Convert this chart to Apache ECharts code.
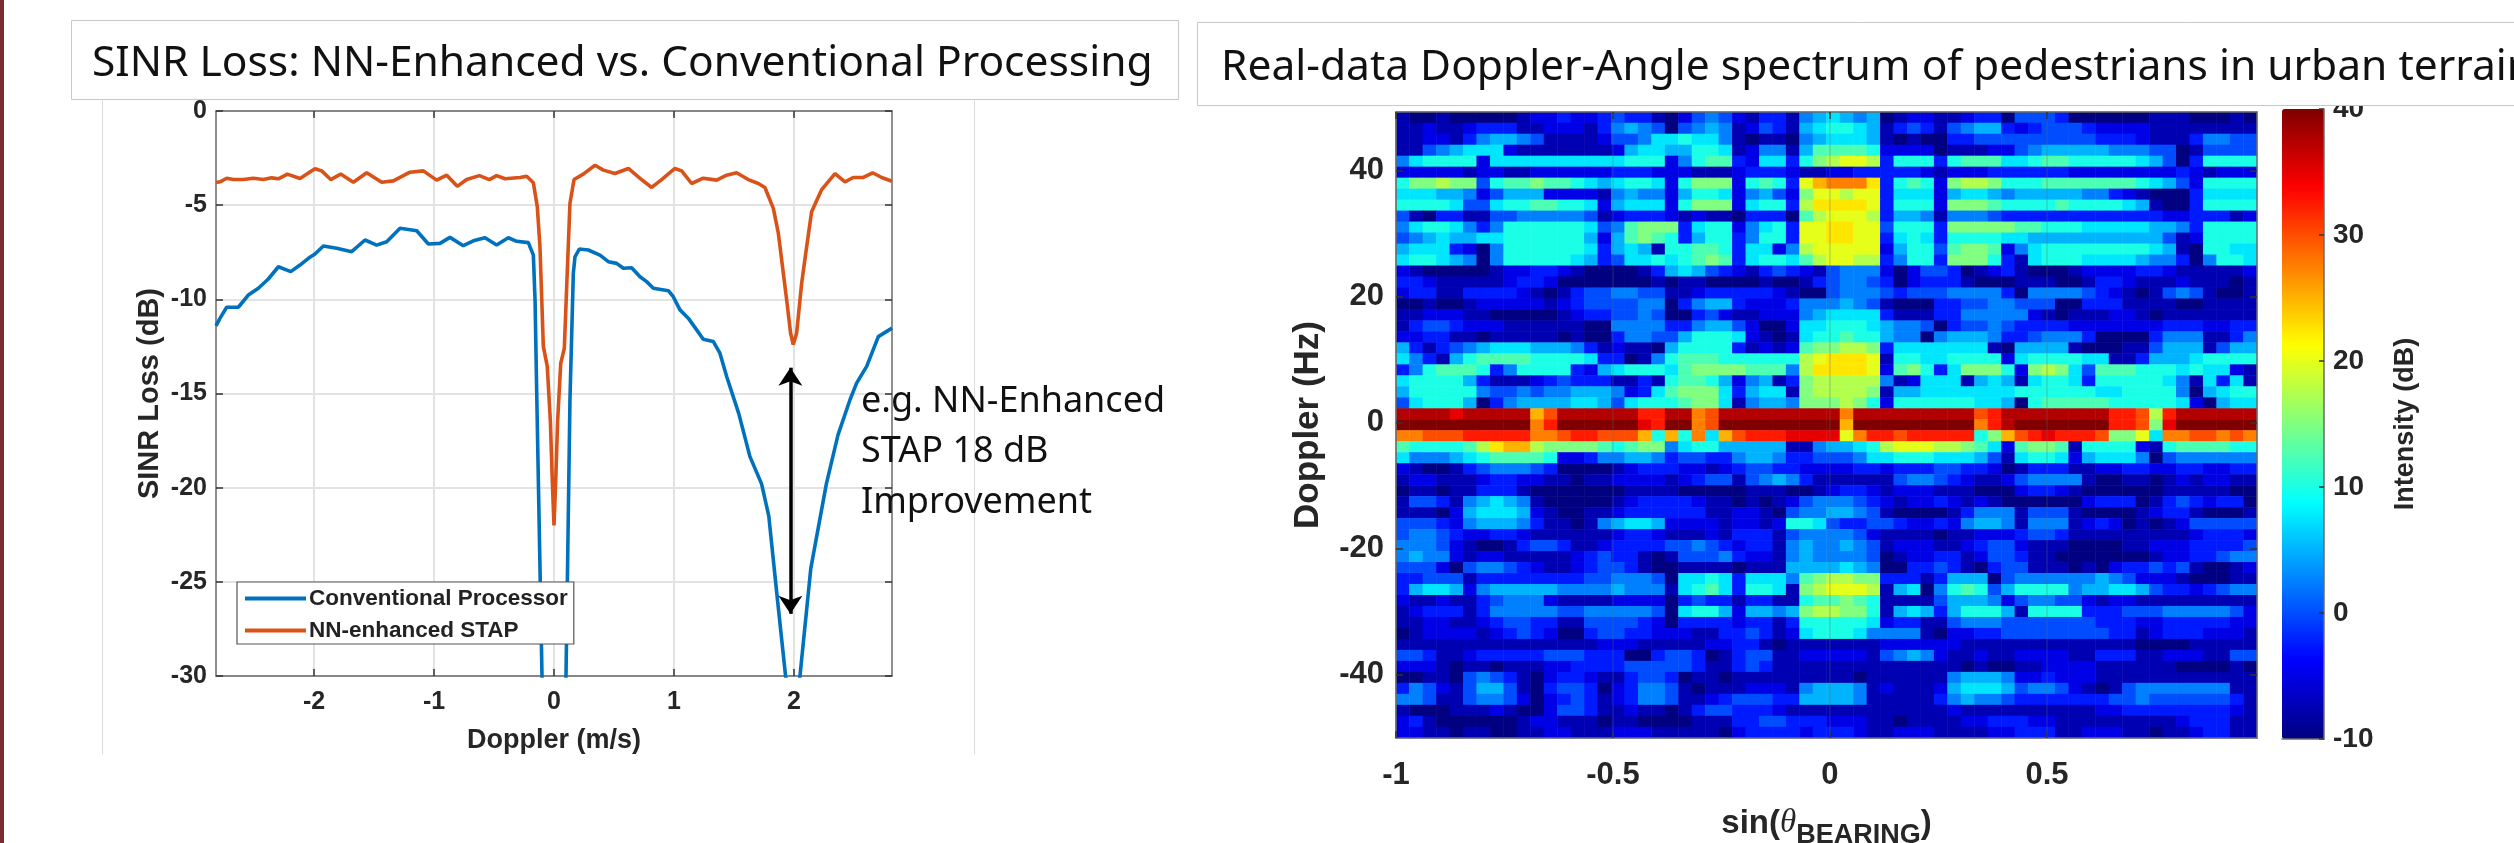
<!DOCTYPE html>
<html><head><meta charset="utf-8">
<style>html,body{margin:0;padding:0;background:#fff;overflow:hidden}#c{width:2514px;height:843px}</style>
<script src="https://cdn.jsdelivr.net/npm/echarts@6/dist/echarts.min.js"></script>
</head><body><div id="c"></div>
<script>
const titleLeft = 'SINR Loss: NN-Enhanced vs. Conventional Processing';
const titleRight = 'Real-data Doppler-Angle spectrum of pedestrians in urban terrain';
const noteLines = ['e.g. NN-Enhanced', 'STAP 18 dB', 'Improvement'];
const dopplerTicks = [-2, -1, 0, 1, 2];
const sinTicks = [-1, -0.5, 0, 0.5];
const hzTicks = [-40, -20, 0, 20, 40];

const conventionalX = [-2.817,-2.783,-2.728,-2.631,-2.547,-2.464,-2.381,-2.297,-2.194,-2.117,-2.047,-1.992,-1.922,-1.811,-1.686,-1.575,-1.478,-1.394,-1.283,-1.144,-1.047,-0.95,-0.867,-0.756,-0.672,-0.575,-0.478,-0.381,-0.311,-0.214,-0.172,-0.158,-0.144,-0.10,-0.09,0,0.09,0.10,0.133,0.161,0.175,0.211,0.286,0.383,0.453,0.522,0.578,0.647,0.717,0.772,0.828,0.953,0.994,1.05,1.119,1.189,1.244,1.328,1.383,1.439,1.54,1.633,1.73,1.79,1.855,1.93,2.0,2.05,2.14,2.27,2.367,2.467,2.522,2.606,2.703,2.817];
const conventionalY = [-11.41,-11.0,-10.42,-10.42,-9.77,-9.41,-8.92,-8.27,-8.53,-8.18,-7.82,-7.59,-7.17,-7.29,-7.47,-6.85,-7.12,-6.94,-6.23,-6.36,-7.06,-7.03,-6.71,-7.15,-6.89,-6.73,-7.12,-6.73,-6.92,-6.99,-7.65,-10.03,-14.98,-30,-33,-36,-33,-30,-15.33,-8.62,-7.74,-7.33,-7.38,-7.65,-8.0,-8.09,-8.35,-8.32,-8.8,-9.06,-9.41,-9.54,-9.86,-10.56,-11.0,-11.62,-12.12,-12.24,-12.86,-14.1,-16.07,-18.35,-19.8,-21.5,-25.5,-30,-33,-30,-24.3,-19.8,-17.2,-15.33,-14.45,-13.56,-11.98,-11.53];
const enhancedX = [-2.817,-2.783,-2.728,-2.672,-2.589,-2.506,-2.422,-2.353,-2.297,-2.222,-2.117,-1.992,-1.936,-1.861,-1.778,-1.672,-1.561,-1.436,-1.339,-1.2,-1.089,-0.978,-0.894,-0.806,-0.728,-0.622,-0.539,-0.478,-0.408,-0.283,-0.228,-0.172,-0.139,-0.117,-0.089,-0.056,-0.03,-0.015,0,0.015,0.03,0.056,0.086,0.106,0.133,0.167,0.244,0.342,0.411,0.508,0.62,0.717,0.814,0.897,1.008,1.064,1.147,1.244,1.356,1.439,1.522,1.619,1.703,1.758,1.828,1.87,1.939,1.972,1.994,2.022,2.064,2.106,2.147,2.231,2.342,2.425,2.494,2.578,2.656,2.731,2.817];
const enhancedY = [-3.8,-3.76,-3.57,-3.64,-3.64,-3.57,-3.64,-3.55,-3.6,-3.35,-3.58,-3.07,-3.18,-3.64,-3.35,-3.78,-3.28,-3.78,-3.71,-3.25,-3.18,-3.67,-3.41,-4.0,-3.64,-3.43,-3.64,-3.43,-3.6,-3.53,-3.46,-3.81,-5.09,-7.21,-12.5,-13.56,-16.5,-19.5,-22,-19.5,-16.5,-13.4,-12.6,-9.3,-4.9,-3.64,-3.35,-2.88,-3.14,-3.32,-3.05,-3.58,-4.06,-3.64,-3.05,-3.18,-3.85,-3.57,-3.67,-3.41,-3.28,-3.64,-3.85,-4.06,-5.17,-6.5,-10.03,-11.8,-12.4,-11.8,-9.15,-7.2,-5.35,-4.17,-3.32,-3.76,-3.53,-3.53,-3.28,-3.53,-3.73];

// Spectrum cells, top row first. Each character is one cell, in 2.5 dB steps from -10 dB (0) to 40 dB (k).
const spectrumRows = [
"1001000001 2232234331 0245421331 5676560122 1123304443 0000001110 0010",
"1121123331 1222135654 0456512431 6788761343 1456632344 4322221111 1111",
"1122135665 4111124457 7877510110 5677761010 0334444444 4433321113 5544",
"1145677721 1111112677 6688712551 6999982222 0111224566 6665554401 4444",
"5788882777 7777777888 2589932773 8abccb3888 3899977899 8888876403 8888",
"2222212211 2222223332 2211123332 1122333332 1222333333 2222222232 1222",
"8aabaa4899 a998767887 28aaa28983 cefffd3898 2abba88899 9999987642 8888",
"7776652466 6222215655 2688725642 accbcc3777 2677656666 6553210003 7777",
"8888744788 9988726777 28aaa27883 bddddc3888 2aaa988889 8888761003 8888",
"4103311445 5555412333 2121103330 9bcccb3665 1555433333 3333333223 3312",
"5788753588 88887459aa a378825783 ccddcc4888 3aaaaa9988 8777776653 8888",
"4567667788 88886269a9 8368835883 ccddcc3787 3888877666 6666666412 8888",
"6777320588 8888736761 8899837725 bccccc2688 49aa925788 8888887610 8877",
"7887650588 8887634778 789a937887 9bccbb3588 3aaa831788 8777765530 5887",
"2100000122 3321000013 6764321343 2145552024 4301231000 1222233211 1112",
"3321111123 3200000001 0110000100 1345543023 3310001110 0133211121 1101",
"2331133332 1013445544 1123333321 0045554344 4555530555 5432101454 1001",
"0010012222 2123444455 0356632223 5556541000 3344554440 0333111100 1111",
"1122211000 0012334454 0034211222 5677773111 3355555210 1112210111 1111",
"1344322211 1111005555 3356642002 7788876554 0344543333 2222222333 2233",
"2233110111 1101003554 4688872101 7889886550 5666533455 5300003555 1135",
"6313456777 6665312110 6888831212 9aabba3777 7777106666 1000114666 1466",
"7531689999 8888733015 8999888888 bcdddc1887 7888827888 8771136667 8888",
"3589998358 8883267888 79aaaa9995 bddddc29a8 37aaa82aba 7499988878 7721",
"7888863111 2343331131 8998625613 abbbbb5127 7716761788 7388888751 7371",
"6888885445 4556665237 9aaa736771 abbbba1667 7777778888 8877888850 6788",
"4788860356 6667764788 89aa715665 aaaba82888 8887760899 9998888872 0677",
"jjjjijjjjj egjjjjjjhh jjfgjjjjjj jjjfjjjjjj jjjghjjjjj jjjhhgbhjj jjjj",
"kkkkkkkkkk fhkkkkkkih kkfgkkkkkk kkkekkkkkk kkkfhjkkkk kkkhhgaikk kkkk",
"ffggghhhhh ffghhggge8 e8f7eghhhi iiicfhhghh hhh8aeghih hhgaac7ffg gfgf",
"988889bdee baaaa989aa 5788666661 156678bccc bba9729aa9 1888821899 9988",
"7555678999 9822355665 3443356653 3444577888 7776417887 2677750455 5555",
"2100134555 4300001233 3221234433 2222332333 4433201333 1122332233 2233",
"1221112332 2110112222 1234414565 3111111455 4321124555 5100110121 2211",
"0110113331 0000000111 1000001110 0123321222 1110002332 1000000111 1100",
"1443156765 1000001233 3321101012 4555432122 3212100000 0233301343 2330",
"1110267776 2100112333 3331122104 5566541000 0135551444 1000012331 0001",
"4443256665 3110156776 2222122128 8743344322 3256651555 1232010124 4444",
"4554322332 1111112332 1112133314 5555421111 0112223443 1111111112 3332",
"5554210013 4431123333 4454323315 6556541222 1123442111 0000112223 3334",
"5655212211 1112343310 1444532215 6555540122 3312443110 0000001223 3455",
"4442045543 2112344310 0111101116 6667650033 4310344111 0102334341 0012",
"3344413333 3333445554 0778737775 9abbaa3331 3666045555 5565422210 0011",
"3677625666 6655556555 1789738871 abcccb1670 5898468888 5667764332 3455",
"2112113455 5211112222 0343313311 899a981111 4666524554 4212211111 1111",
"1233313555 5544555554 0788626656 abbaa81676 3688861888 8333444555 5542",
"1122112344 3311444432 0333323313 8888872331 1455544444 4433322333 3322",
"0122221234 3200344332 2211334312 7888755551 0223344444 4443312333 2221",
"1111111111 1111122211 1112233101 1111112222 2211111111 1111100001 1111",
"4431123333 3444333003 4430134411 2222214565 2112112222 1133311222 1144",
"2221011011 1223333444 4431134311 1111111111 1101001122 2211111100 0010",
"0011045431 0233211344 3011011111 1111011111 1566652232 2211111111 1111",
"3542146641 0344302355 4101112221 5666512111 2677764554 2101455555 5511",
"5541145542 0234312355 4112344433 6666511111 3565543333 3334454444 4431",
"1000111210 0244311211 0134433321 1111111111 1211111111 1122333333 3321",
"2310000001 2211101100 0011133443 3322211011 1122333221 1111111123 3311",
"2211011001 1221112221 1111023333 2333211222 1111223331 1222110112 3311"
];
const spectrumColumns = spectrumRows[0].replace(/\s/g, '').length;

const jet = ['#000080','#0000ff','#0080ff','#00ffff','#80ff80','#ffff00','#ff8000','#ff0000','#800000'];
const heatData = [];
spectrumRows.forEach((row, r) => {
  row.replace(/\s/g, '').split('').forEach((c, k) => {
    heatData.push([k, spectrumRows.length - 1 - r, -10 + 2.5 * parseInt(c, 21)]);
  });
});
const zip = (a, b) => a.map((v, i) => [v, b[i]]);
const sansBold = {fontFamily: 'Liberation Sans', fontWeight: 'bold', color: '#262626'};
const headFont = 'Noto Sans';
const axisGray = '#6a6a6a';
const frame = {show: true, onZero: false, lineStyle: {color: axisGray, width: 1.5}};
const ticksIn = (vals, len) => ({show: true, inside: true, length: len || 7, customValues: vals, lineStyle: {color: '#333', width: 1.5}});
const gridBase = {show: false, outerBoundsMode: 'none', containLabel: false};

const chart = echarts.init(document.getElementById('c'), null, {renderer: 'canvas'});
chart.setOption({
  animation: false,
  backgroundColor: '#ffffff',
  title: [
    {text: titleLeft, left: 92, top: 42, z: 60, textStyle: {fontFamily: headFont, fontWeight: 'normal', fontSize: 42.5, color: '#111'}, padding: 0},
    {text: titleRight, left: 1221, top: 46, z: 60, textStyle: {fontFamily: headFont, fontWeight: 'normal', fontSize: 42.5, color: '#111'}, padding: 0}
  ],
  legend: {
    show: true, orient: 'vertical', left: 237, top: 582, data: ['Conventional Processor', 'NN-enhanced STAP'],
    backgroundColor: '#fff', borderColor: '#555', borderWidth: 1.2, padding: [5, 6, 2, 8], itemGap: 9,
    icon: 'rect', itemWidth: 61, itemHeight: 4, z: 20, textStyle: {...sansBold, fontSize: 22.5, color: '#222', padding: [0, 0, 0, -2]}
  },
  grid: [
    {...gridBase, left: 216, top: 111, width: 676, height: 565},
    {...gridBase, left: 1396, top: 112, width: 861, height: 626},
    {...gridBase, left: 1396, top: 112, width: 861, height: 626},
    {...gridBase, left: 2282, top: 109, width: 42, height: 630}
  ],
  xAxis: [
    {gridIndex: 0, type: 'value', min: -2.817, max: 2.817, axisLine: frame, axisTick: ticksIn(dopplerTicks),
      axisLabel: {...sansBold, fontSize: 25, margin: 14, customValues: dopplerTicks},
      splitLine: {show: true, lineStyle: {color: '#e3e3e3', width: 2}},
      name: 'Doppler (m/s)', nameLocation: 'middle', nameGap: 51, nameTextStyle: {...sansBold, fontSize: 27}},
    {gridIndex: 0, type: 'value', position: 'top', min: -2.817, max: 2.817, axisLine: frame, axisTick: ticksIn(dopplerTicks), axisLabel: {show: false}, splitLine: {show: false}},
    {gridIndex: 1, type: 'category', data: Array.from({length: spectrumColumns}, (_, i) => i), show: false, boundaryGap: true},
    {gridIndex: 2, type: 'value', min: -1, max: 0.984, z: 5, axisLine: frame, axisTick: ticksIn(sinTicks),
      axisLabel: {...sansBold, fontSize: 31, margin: 22, customValues: sinTicks, formatter: v => String(v)},
      splitLine: {show: true, lineStyle: {color: 'rgba(90,110,110,0.28)', width: 1.5}},
      name: '{a|sin(}{t|θ}{s|BEARING}{a|)}', nameLocation: 'middle', nameGap: 60,
      nameTextStyle: {rich: {
        a: {...sansBold, fontSize: 33},
        t: {fontFamily: 'Liberation Serif', fontStyle: 'italic', fontSize: 33, color: '#262626'},
        s: {...sansBold, fontSize: 27, padding: [24, 0, 0, 0]}
      }}},
    {gridIndex: 2, type: 'value', position: 'top', min: -1, max: 0.984, z: 5, axisLine: frame, axisTick: ticksIn(sinTicks), axisLabel: {show: false}, splitLine: {show: false}},
    {gridIndex: 3, type: 'value', min: 0, max: 1, z: 5, axisLine: frame, axisTick: {show: false}, axisLabel: {show: false}, splitLine: {show: false}}
  ],
  yAxis: [
    {gridIndex: 0, type: 'value', min: -30, max: 0, interval: 5, axisLine: frame, axisTick: {show: true, inside: true, length: 7, lineStyle: {color: '#333', width: 1.5}},
      axisLabel: {...sansBold, fontSize: 25, margin: 9},
      splitLine: {show: true, lineStyle: {color: '#e3e3e3', width: 2}},
      name: 'SINR Loss (dB)', nameLocation: 'middle', nameRotate: 90, nameGap: 52, nameTextStyle: {...sansBold, fontSize: 29}},
    {gridIndex: 0, type: 'value', position: 'right', min: -30, max: 0, interval: 5, axisLine: frame, axisTick: {show: true, inside: true, length: 7, lineStyle: {color: '#333', width: 1.5}}, axisLabel: {show: false}, splitLine: {show: false}},
    {gridIndex: 1, type: 'category', data: spectrumRows.map((_, i) => i), show: false, boundaryGap: true},
    {gridIndex: 2, type: 'value', min: -50.1, max: 49.25, z: 5, axisLine: frame, axisTick: ticksIn(hzTicks),
      axisLabel: {...sansBold, fontSize: 31, margin: 12, customValues: hzTicks}, splitLine: {show: false},
      name: 'Doppler (Hz)', nameLocation: 'middle', nameRotate: 90, nameGap: 70, nameTextStyle: {...sansBold, fontSize: 35}},
    {gridIndex: 2, type: 'value', position: 'right', min: -50.1, max: 49.25, z: 5, axisLine: frame, axisTick: ticksIn(hzTicks), axisLabel: {show: false}, splitLine: {show: false}},
    {gridIndex: 3, type: 'value', position: 'right', min: -10, max: 40, interval: 10, z: 5, axisLine: frame,
      axisTick: {show: true, inside: true, length: 5, lineStyle: {color: '#333', width: 1.5}},
      axisLabel: {...sansBold, fontSize: 28, margin: 9}, splitLine: {show: false},
      name: 'Intensity (dB)', nameLocation: 'middle', nameRotate: 90, nameGap: 68, nameTextStyle: {...sansBold, fontSize: 27}}
  ],
  visualMap: {
    type: 'continuous', seriesIndex: 2, dimension: 2, min: -10, max: 40, calculable: false, hoverLink: false,
    left: 2282, top: 109, itemWidth: 42, itemHeight: 630, padding: 0, text: null, showLabel: false,
    inRange: {color: jet}, textStyle: {color: 'rgba(0,0,0,0)', fontSize: 1}
  },
  series: [
    {name: 'Conventional Processor', type: 'line', xAxisIndex: 0, yAxisIndex: 0, data: zip(conventionalX, conventionalY), symbol: 'none', clip: true,
      lineStyle: {color: '#0072BD', width: 3.6}, itemStyle: {color: '#0072BD'}, z: 3,
      markLine: {silent: true, animation: false, symbol: ['arrow', 'arrow'], symbolSize: [18, 18], label: {show: false},
        lineStyle: {color: '#000', width: 3.5, type: 'solid'},
        data: [[{coord: [1.97, -13.63]}, {coord: [1.97, -26.7]}]]}},
    {name: 'NN-enhanced STAP', type: 'line', xAxisIndex: 0, yAxisIndex: 0, data: zip(enhancedX, enhancedY), symbol: 'none', clip: true,
      lineStyle: {color: '#D95319', width: 3.6}, itemStyle: {color: '#D95319'}, z: 4},
    {name: 'spectrum', type: 'heatmap', xAxisIndex: 2, yAxisIndex: 2, data: heatData, progressive: 0, emphasis: {disabled: true}, z: 2}
  ],
  graphic: [
    {type: 'rect', z: 50, shape: {x: 0, y: 0, width: 4, height: 843}, style: {fill: '#7d2b33'}},
    {type: 'line', z: 0, shape: {x1: 102.5, y1: 99, x2: 102.5, y2: 754}, style: {stroke: '#dcdcdc', lineWidth: 1}},
    {type: 'line', z: 0, shape: {x1: 974.5, y1: 99, x2: 974.5, y2: 754}, style: {stroke: '#dcdcdc', lineWidth: 1}},
    {type: 'rect', z: 50, shape: {x: 71.5, y: 20.5, width: 1107, height: 79}, style: {fill: '#fff', stroke: '#c8c8c8', lineWidth: 1}},
    {type: 'rect', z: 50, shape: {x: 1197.5, y: 22.5, width: 1330, height: 83}, style: {fill: '#fff', stroke: '#c8c8c8', lineWidth: 1}},
    {type: 'text', z: 55, x: 861, y: 376, style: {text: noteLines.join('\n'), font: '36px "Noto Sans"', lineHeight: 50.5, fill: '#111'}}
  ]
});
</script></body></html>
